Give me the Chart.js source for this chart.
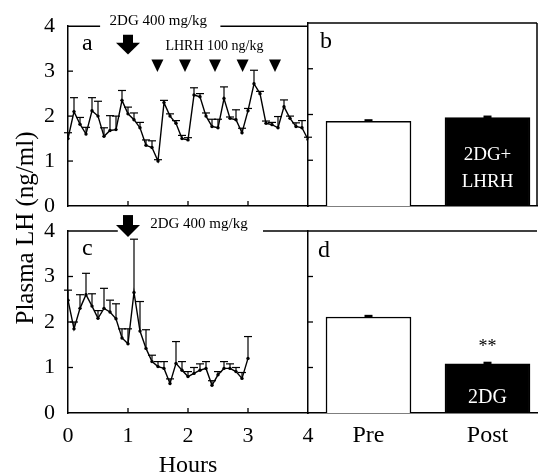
<!DOCTYPE html>
<html>
<head>
<meta charset="utf-8">
<script src="https://cdn.jsdelivr.net/npm/chart.js@4.4.0/dist/chart.umd.min.js"></script>
<style>
  html, body { margin: 0; padding: 0; background: #fff; }
  #wrap { position: relative; width: 538px; height: 475px; }
  #wrap canvas { position: absolute; left: 0; top: 0; }
</style>
</head>
<body>
<div id="wrap">
  <canvas id="panelA" width="538" height="475"></canvas>
  <canvas id="panelB" width="538" height="475"></canvas>
  <canvas id="panelC" width="538" height="475"></canvas>
  <canvas id="panelD" width="538" height="475"></canvas>
</div>
<script>
// sampling times (h), mean plasma LH and upper SEM - panel a (2DG + LHRH)
const hoursA = [0, 0.1, 0.2, 0.3, 0.4, 0.5, 0.6, 0.7, 0.8, 0.9,
                1.0, 1.1, 1.2, 1.3, 1.4, 1.5, 1.6, 1.7, 1.8, 1.9,
                2.0, 2.1, 2.2, 2.3, 2.4, 2.5, 2.6, 2.7, 2.8, 2.9,
                3.0, 3.1, 3.2, 3.3, 3.4, 3.5, 3.6, 3.7, 3.8, 3.9, 4.0];
const lhA = [1.50, 2.10, 1.82, 1.60, 2.12, 2.00, 1.55, 1.68, 1.70, 2.35,
             2.05, 1.92, 1.74, 1.35, 1.30, 1.00, 2.30, 2.00, 1.84, 1.50,
             1.47, 2.47, 2.43, 2.00, 1.77, 1.74, 2.39, 1.95, 1.92, 1.63,
             2.12, 2.72, 2.50, 1.84, 1.81, 1.74, 2.21, 1.95, 1.77, 1.74, 1.48];
const semA = [0.13, 0.31, 0.15, 0.15, 0.29, 0.33, 0.19, 0.33, 0.30, 0.22,
              0.15, 0.15, 0.12, 0.12, 0.15, 0.03, 0.05, 0.05, 0.06, 0.07,
              0.05, 0.16, 0.07, 0.07, 0.16, 0.19, 0.26, 0.03, 0.22, 0.10,
              0.05, 0.30, 0.05, 0.05, 0.05, 0.25, 0.15, 0.05, 0.08, 0.16, 0.05];

// panel c (2DG only), sampled for 3 h
const hoursC = [0, 0.1, 0.2, 0.3, 0.4, 0.5, 0.6, 0.7, 0.8, 0.9,
                1.0, 1.1, 1.2, 1.3, 1.4, 1.5, 1.6, 1.7, 1.8, 1.9,
                2.0, 2.1, 2.2, 2.3, 2.4, 2.5, 2.6, 2.7, 2.8, 2.9, 3.0];
const lhC = [2.48, 1.85, 2.30, 2.60, 2.35, 2.08, 2.30, 2.22, 2.07, 1.65,
             1.52, 2.65, 1.80, 1.42, 1.13, 1.02, 0.98, 0.65, 1.09, 0.94,
             0.80, 0.87, 0.94, 0.98, 0.61, 0.84, 0.98, 0.98, 0.91, 0.76, 1.20];
const semC = [0.22, 0.15, 0.30, 0.47, 0.27, 0.17, 0.44, 0.26, 0.33, 0.20,
              0.33, 1.17, 0.65, 0.41, 0.14, 0.11, 0.15, 0.10, 0.48, 0.19,
              0.11, 0.13, 0.14, 0.15, 0.10, 0.07, 0.15, 0.10, 0.09, 0.13, 0.48];

// injection times (h)
const dgTime = 1.0;
const lhrhTimes = [1.49, 1.95, 2.45, 2.91, 3.45];

// mean LH before / after treatment - panels b and d
const groups = ['Pre', 'Post'];
const meanB = [1.85, 1.93];
const semB = [0.02, 0.02];
const meanD = [2.11, 1.08];
const semD = [0.02, 0.02];

const innerTicks = [1, 2, 3];
const serif = "'Liberation Serif', 'Times New Roman', serif";

Chart.defaults.font.family = serif;
Chart.defaults.color = '#000';
Chart.defaults.animation = false;
Chart.defaults.events = [];
Chart.defaults.plugins.legend.display = false;
Chart.defaults.plugins.tooltip.enabled = false;

// error bars, inward ticks, open frame, arrows and labels
const panelDecor = {
  id: 'panelDecor',
  afterDatasetsDraw(chart, args, o) {
    const ctx = chart.ctx, a = chart.chartArea;
    const px = v => chart.scales.x.getPixelForValue(v);
    const py = v => chart.scales.y.getPixelForValue(v);
    const line = (x0, y0, x1, y1) => { ctx.beginPath(); ctx.moveTo(x0, y0); ctx.lineTo(x1, y1); ctx.stroke(); };
    ctx.save();
    ctx.strokeStyle = '#000';
    ctx.fillStyle = '#000';

    chart.data.datasets.forEach((ds, i) => {
      if (!ds.errUp) return;
      chart.getDatasetMeta(i).data.forEach((el, j) => {
        const v = ds.data[j].y;
        const y1 = py(v + ds.errUp[j]);
        ctx.lineWidth = ds.errWidth || 1.2;
        line(el.x, py(v), el.x, y1);
        line(el.x - ds.capHalf, y1, el.x + ds.capHalf, y1);
      });
    });

    ctx.lineWidth = 1.3;
    (o.xTicks || []).forEach(v => line(px(v), a.bottom, px(v), a.bottom - 5));
    (o.yTicks || []).forEach(v => line(a.left, py(v), a.left + 5, py(v)));

    ctx.lineWidth = 1.5;
    (o.topLine || []).forEach(s => line(px(s[0]), a.top, px(s[1]), a.top));
    if (o.rightLine) line(a.right, a.top, a.right, a.bottom);

    if (o.arrow) {
      const cx = px(o.arrow.x), yTop = py(o.arrow.top), yNeck = py(o.arrow.neck), yTip = py(o.arrow.tip);
      ctx.fillRect(cx - 5, yTop, 10, yNeck - yTop + 1);
      ctx.beginPath();
      ctx.moveTo(cx - 12, yNeck); ctx.lineTo(cx + 12, yNeck); ctx.lineTo(cx, yTip);
      ctx.closePath(); ctx.fill();
    }
    (o.heads || []).forEach(t => {
      const cx = px(t);
      ctx.beginPath();
      ctx.moveTo(cx - 6, py(o.headTop)); ctx.lineTo(cx + 6, py(o.headTop)); ctx.lineTo(cx, py(o.headTip));
      ctx.closePath(); ctx.fill();
    });

    ctx.textBaseline = 'alphabetic';
    (o.texts || []).forEach(t => {
      ctx.font = t.size + 'px ' + serif;
      ctx.fillStyle = t.color || '#000';
      ctx.textAlign = t.align || 'left';
      ctx.fillText(t.text, px(t.x), py(t.y));
    });

    if (o.yTitle) {
      ctx.fillStyle = '#000';
      ctx.font = o.yTitle.size + 'px ' + serif;
      ctx.textAlign = 'center';
      ctx.textBaseline = 'middle';
      ctx.translate(o.yTitle.x, o.yTitle.y);
      ctx.rotate(-Math.PI / 2);
      ctx.fillText(o.yTitle.text, 0, 0);
    }
    ctx.restore();
  }
};

const axisBorder = { display: true, color: '#000', width: 1.5 };
const noGrid = { display: false, drawTicks: false };

function lhSeries(hours, lh, sem) {
  return {
    data: hours.map((h, i) => ({ x: h, y: lh[i] })),
    errUp: sem,
    capHalf: 4,
    borderColor: '#000',
    borderWidth: 1.4,
    pointRadius: 1.7,
    pointBorderWidth: 0,
    pointBackgroundColor: '#000',
    tension: 0
  };
}

function barSeries(mean, sem) {
  return {
    data: mean.map((m, i) => ({ x: i + 1, y: m })),
    errUp: sem,
    capHalf: 4,
    errWidth: 2.5,
    backgroundColor: ['#fff', '#000'],
    borderColor: '#000',
    borderWidth: 1.5,
    barThickness: 85
  };
}

function yAxis(showLabels, width) {
  return {
    min: 0, max: 4,
    grid: noGrid,
    border: axisBorder,
    ticks: { display: showLabels, stepSize: 1, font: { size: 22 }, padding: 13 },
    afterFit: s => { s.width = width; }
  };
}

// a: 2DG + LHRH time course
new Chart(document.getElementById('panelA'), {
  type: 'line',
  data: { datasets: [lhSeries(hoursA, lhA, semA)] },
  options: {
    responsive: false,
    layout: { padding: { left: 0, top: 23, right: 230, bottom: 269 } },
    scales: {
      x: { type: 'linear', min: 0, max: 4, grid: noGrid, border: axisBorder,
           ticks: { display: false }, afterFit: s => { s.height = 0; } },
      y: yAxis(true, 68)
    },
    plugins: {
      panelDecor: {
        xTicks: innerTicks, yTicks: innerTicks,
        topLine: [[0, 0.535], [2.54, 4]],
        arrow: { x: dgTime, top: 3.81, neck: 3.63, tip: 3.37 },
        heads: lhrhTimes, headTop: 3.26, headTip: 2.98,
        texts: [
          { text: 'a', x: 0.234, y: 3.48, size: 24 },
          { text: '2DG 400 mg/kg', x: 1.506, y: 4.03, size: 15, align: 'center' },
          { text: 'LHRH 100 ng/kg', x: 2.44, y: 3.46, size: 14, align: 'center' }
        ]
      }
    }
  },
  plugins: [panelDecor]
});

// b: mean LH pre / post, 2DG + LHRH
new Chart(document.getElementById('panelB'), {
  type: 'bar',
  data: { datasets: [barSeries(meanB, semB)] },
  options: {
    responsive: false,
    layout: { padding: { left: 308, top: 23, right: 1, bottom: 269 } },
    scales: {
      x: { type: 'linear', min: 0.4916, max: 2.416, offset: false, grid: { ...noGrid, offset: false }, border: axisBorder,
           ticks: { display: false }, afterFit: s => { s.height = 0; } },
      y: yAxis(false, 0)
    },
    plugins: {
      panelDecor: {
        yTicks: innerTicks,
        topLine: [[0.4916, 2.416]],
        rightLine: true,
        texts: [
          { text: 'b', x: 0.5924, y: 3.46, size: 24 },
          { text: '2DG+', x: 2, y: 1.01, size: 19, align: 'center', color: '#fff' },
          { text: 'LHRH', x: 2, y: 0.42, size: 19, align: 'center', color: '#fff' }
        ]
      }
    }
  },
  plugins: [panelDecor]
});

// c: 2DG time course
new Chart(document.getElementById('panelC'), {
  type: 'line',
  data: { datasets: [lhSeries(hoursC, lhC, semC)] },
  options: {
    responsive: false,
    layout: { padding: { left: 0, top: 231, right: 230, bottom: 0 } },
    scales: {
      x: { type: 'linear', min: 0, max: 4, grid: noGrid, border: axisBorder,
           ticks: { stepSize: 1, font: { size: 22 }, padding: 10, maxRotation: 0 },
           title: { display: true, text: 'Hours', font: { size: 24, lineHeight: 0.8 }, padding: 0 },
           afterFit: s => { s.height = 62; } },
      y: yAxis(true, 68)
    },
    plugins: {
      panelDecor: {
        xTicks: innerTicks, yTicks: innerTicks,
        topLine: [[0, 0.83], [3.25, 4]],
        arrow: { x: dgTime, top: 4.35, neck: 4.13, tip: 3.87 },
        texts: [
          { text: 'c', x: 0.234, y: 3.47, size: 24 },
          { text: '2DG 400 mg/kg', x: 1.37, y: 4.06, size: 15 }
        ],
        yTitle: { text: 'Plasma LH (ng/ml)', x: 26, y: 228, size: 25 }
      }
    }
  },
  plugins: [panelDecor]
});

// d: mean LH pre / post, 2DG
new Chart(document.getElementById('panelD'), {
  type: 'bar',
  data: { datasets: [barSeries(meanD, semD)] },
  options: {
    responsive: false,
    layout: { padding: { left: 308, top: 231, right: 1, bottom: 0 } },
    scales: {
      x: { type: 'linear', min: 0.4916, max: 2.416, offset: false, grid: { ...noGrid, offset: false }, border: axisBorder,
           afterBuildTicks: s => { s.ticks = groups.map((g, i) => ({ value: i + 1 })); },
           ticks: { font: { size: 24 }, padding: 8, maxRotation: 0, callback: v => groups[v - 1] },
           afterFit: s => { s.height = 62; } },
      y: yAxis(false, 0)
    },
    plugins: {
      panelDecor: {
        yTicks: innerTicks,
        topLine: [[0.4916, 2.416]],
        texts: [
          { text: 'd', x: 0.5756, y: 3.43, size: 24 },
          { text: '**', x: 2, y: 1.35, size: 18, align: 'center' },
          { text: '2DG', x: 2, y: 0.22, size: 20, align: 'center', color: '#fff' }
        ]
      }
    }
  },
  plugins: [panelDecor]
});
</script>
</body>
</html>
